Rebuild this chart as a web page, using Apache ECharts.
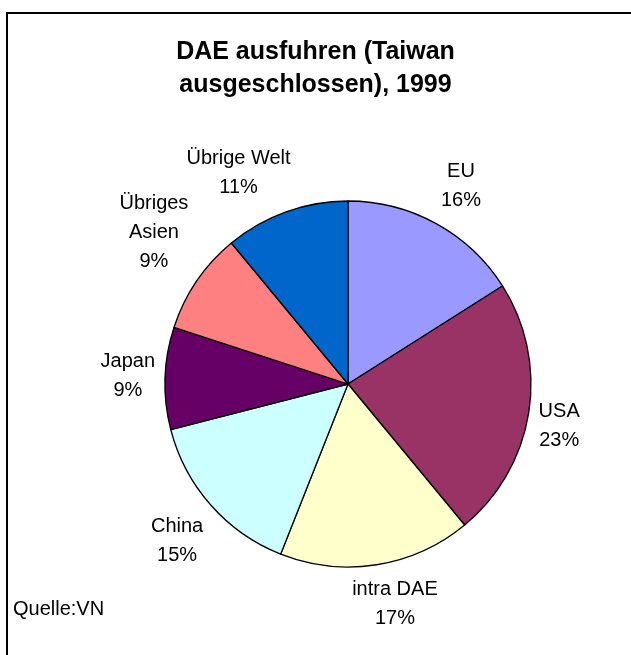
<!DOCTYPE html>
<html>
<head>
<meta charset="utf-8">
<script src="https://cdn.jsdelivr.net/npm/echarts@6/dist/echarts.min.js"></script>
<style>html,body{margin:0;padding:0;background:#fff}#c{width:631px;height:655px}</style>
</head>
<body>
<div id="c"></div>
<script>
var categories = ['EU', 'USA', 'intra DAE', 'China', 'Japan', 'Übriges Asien', 'Übrige Welt'];
var labelNames = ['EU', 'USA', 'intra DAE', 'China', 'Japan', 'Übriges\nAsien', 'Übrige Welt'];
var values = [16, 23, 17, 15, 9, 9, 11];
var colors = ['#9999FF', '#993366', '#FFFFCC', '#CCFFFF', '#660066', '#FF8080', '#0066CC'];
var titleText = 'DAE ausfuhren (Taiwan\nausgeschlossen), 1999';
var sourceText = 'Quelle:VN';

var CX = 348, CY = 384, R = 183, GAP = 10, KX = 2.5, KY = 2.5;
var total = values.reduce(function (a, b) { return a + b; }, 0);
var mids = [];
(function () {
  var acc = 0;
  for (var i = 0; i < values.length; i++) {
    mids.push((acc + values[i] / 2) / total * 2 * Math.PI);
    acc += values[i];
  }
})();
function clamp1(v) { return Math.max(-1, Math.min(1, v)); }

var chart = echarts.init(document.getElementById('c'), null, {renderer: 'canvas'});
chart.setOption({
  backgroundColor: '#ffffff',
  animation: false,
  title: {
    text: titleText,
    left: 'center',
    top: 36,
    padding: [0, 0, 0, 9],
    textStyle: {
      fontFamily: 'Liberation Sans, Arial, sans-serif',
      fontWeight: 'bold',
      fontSize: 25,
      lineHeight: 33,
      color: '#000'
    }
  },
  graphic: [
    {
      type: 'rect',
      shape: {x: 7, y: 13, width: 700, height: 700},
      style: {fill: 'none', stroke: '#000', lineWidth: 2},
      silent: true
    },
    {
      type: 'text',
      left: 13,
      top: 599,
      style: {
        text: sourceText,
        font: '20px "Liberation Sans", Arial, sans-serif',
        fill: '#000'
      }
    }
  ],
  series: [{
    type: 'pie',
    center: [CX, CY],
    radius: [0, R],
    startAngle: 90,
    clockwise: true,
    avoidLabelOverlap: false,
    data: categories.map(function (c, i) {
      return {name: c, value: values[i], itemStyle: {color: colors[i]}};
    }),
    itemStyle: {borderColor: '#000', borderWidth: 1.3},
    label: {
      show: true,
      position: 'outside',
      formatter: function (p) { return labelNames[p.dataIndex] + '\n' + p.value + '%'; },
      fontFamily: 'Liberation Sans, Arial, sans-serif',
      fontSize: 20,
      lineHeight: 29,
      color: '#000',
      align: 'center'
    },
    labelLine: {show: false},
    labelLayout: function (p) {
      var a = mids[p.dataIndex];
      var ux = Math.sin(a), uy = -Math.cos(a);
      var w = p.labelRect.width, h = p.labelRect.height;
      var px = CX + ux * (R + GAP), py = CY + uy * (R + GAP);
      return {
        x: px + clamp1(ux * KX) * w / 2,
        y: py + clamp1(uy * KY) * h / 2,
        align: 'center',
        verticalAlign: 'middle'
      };
    },
    emphasis: {disabled: true}
  }]
});
</script>
</body>
</html>
